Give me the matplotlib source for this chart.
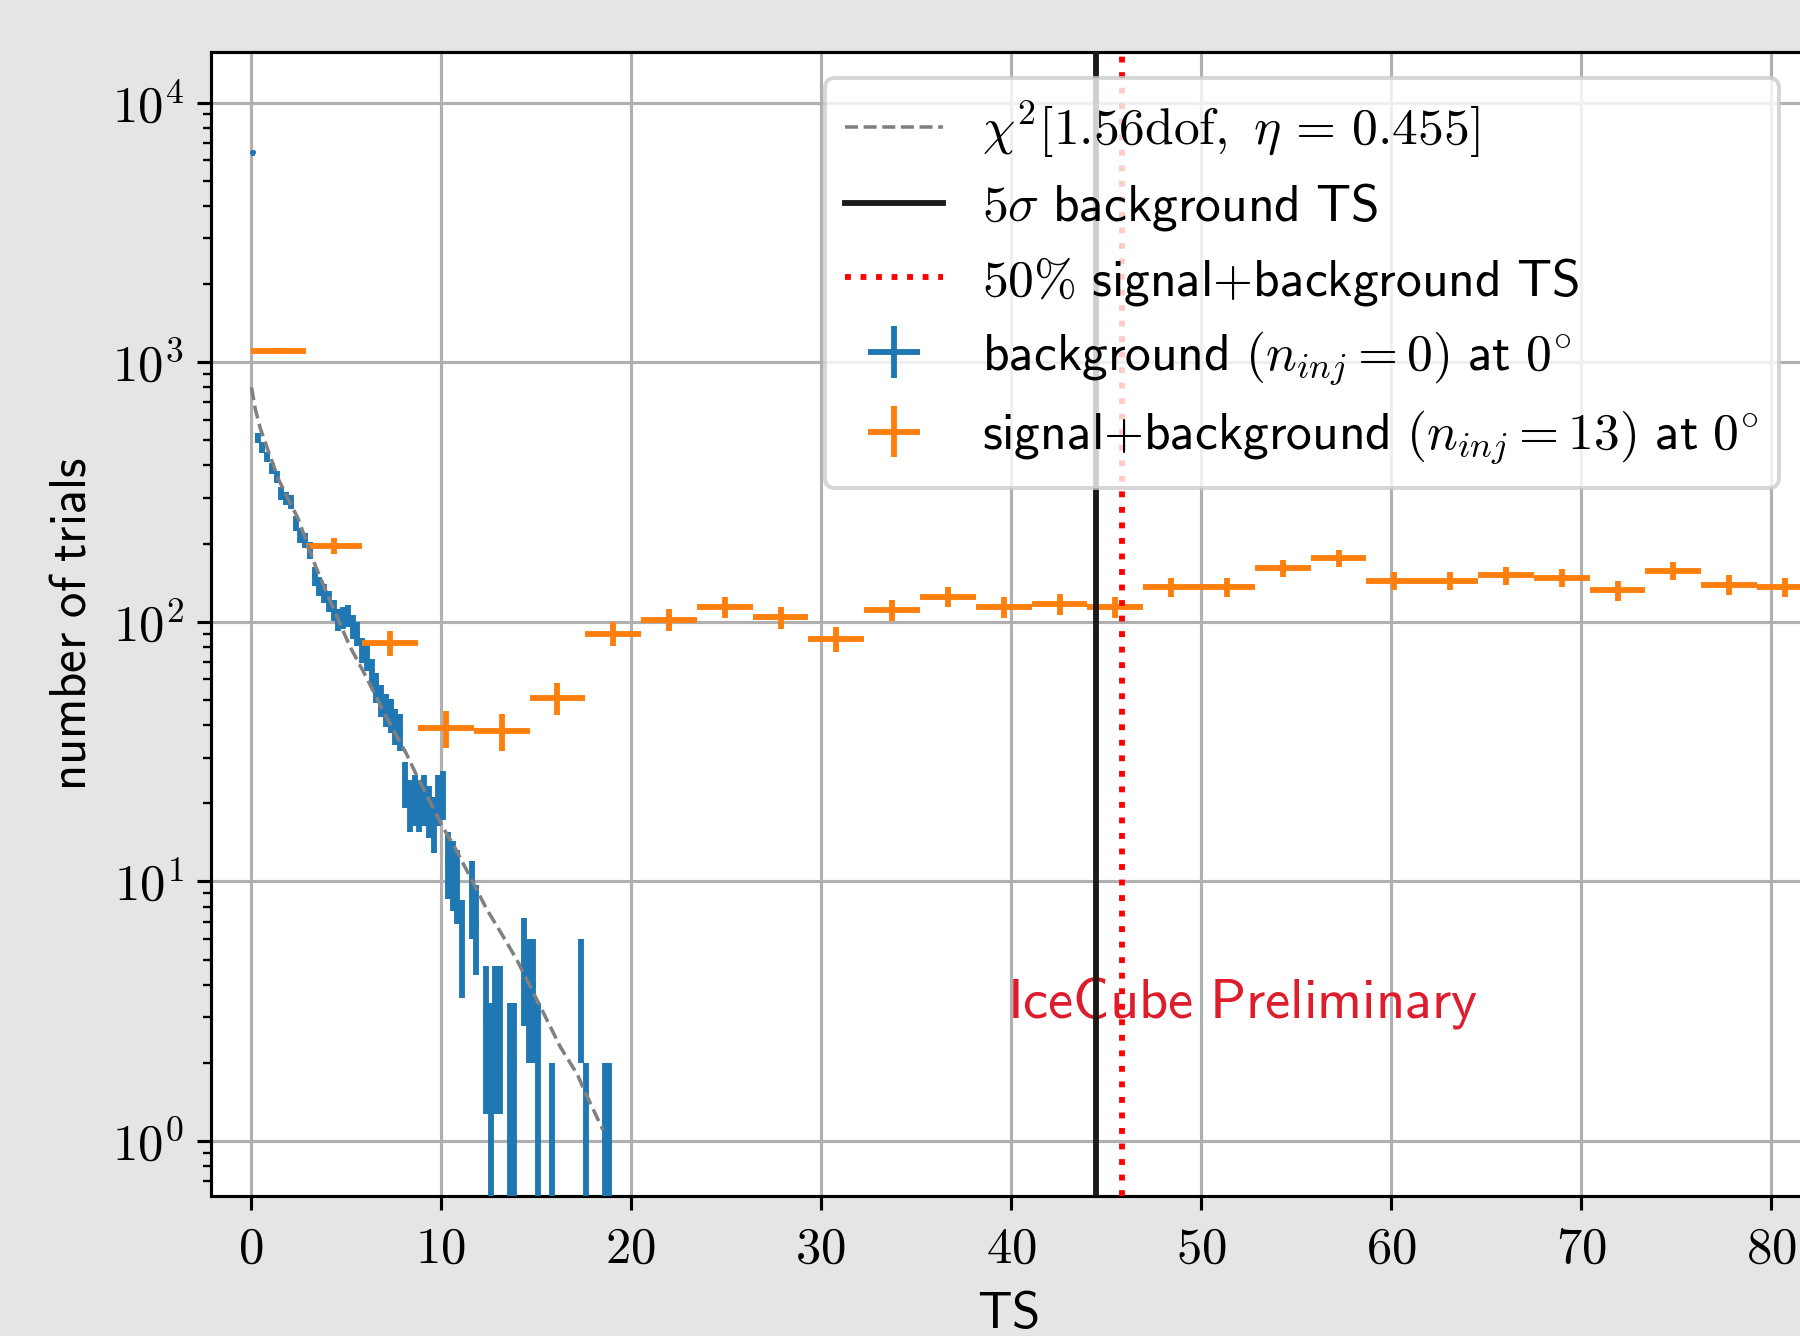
import numpy as np
import matplotlib
matplotlib.use('Agg')
import matplotlib.pyplot as plt
from matplotlib.ticker import FixedLocator, FuncFormatter, LogLocator, NullFormatter

plt.rcParams['mathtext.fontset'] = 'cm'

# background only trials (n_inj = 0), histogram of TS, 0.25 wide bins from 0
bg_bin_width = 0.25
bg_counts = [6410, 510, 470, 432, 390, 362, 313, 300, 290, 239,
             215, 206, 189, 150, 137, 129, 120, 111, 102, 104,
             106, 96, 90, 78, 73, 64, 56, 50, 46, 44,
             40, 38, 24, 20, 21, 20, 21, 19, 17, 21,
             22, 12, 11, 10, 6, 0, 9, 7, 0, 3,
             2, 3, 3, 0, 2, 2, 0, 5, 4, 4,
             2, 0, 0, 1, 0, 0, 0, 0, 0, 4,
             1, 0, 0, 0, 1, 1]

# signal+background trials (n_inj = 13), wider bins from 0
sb_bin_width = 2.935
sb_counts = [1105, 196, 83, 39, 38, 51, 90, 102, 114, 104,
             86, 111, 125, 114, 117, 114, 136, 136, 161, 176,
             144, 144, 151, 148, 132, 157, 139, 136]

# chi2 fit to the background distribution
chi2_ts = [0.05, 0.25, 0.5, 1.0, 1.5, 2.0, 2.5, 3.4, 4.3, 5.24,
           6.0, 7.0, 8.2, 8.75, 10.15, 10.68, 11.38, 12.43, 13.31, 14.0,
           15.24, 16.3, 17.2, 17.5, 18.3, 18.55]
chi2_trials = [800, 660, 560, 440, 350, 295, 250, 165, 115, 80,
               63, 45, 31, 25.5, 16, 13.8, 11.0, 7.8, 6.1, 5.0,
               3.3, 2.3, 1.8, 1.6, 1.2, 1.1]

ts_5sigma = 44.5   # 5 sigma background TS
ts_50pct = 45.85   # median signal+background TS

W, H = 1800, 1336
dpi = 281.25
fig = plt.figure(figsize=(W / dpi, H / dpi), dpi=dpi, facecolor='#e5e5e5')
ax = fig.add_axes([211 / W, 140 / H, (1805 - 211) / W, (1196 - 52) / H])
ax.set_facecolor('white')
ax.set_yscale('log')

# data
bg_n = np.array(bg_counts, dtype=float)
bg_x = (np.arange(len(bg_n)) + 0.5) * bg_bin_width
keep = bg_n > 0
sb_n = np.array(sb_counts, dtype=float)
sb_x = (np.arange(len(sb_n)) + 0.5) * sb_bin_width

chi_line, = ax.plot(chi2_ts, chi2_trials, ls='--', color='gray', lw=0.9, zorder=4)
bg = ax.errorbar(bg_x[keep], bg_n[keep], xerr=bg_bin_width / 2, yerr=np.sqrt(bg_n[keep]),
                 ls='none', color='C0', lw=1.5, zorder=3)
sb = ax.errorbar(sb_x, sb_n, xerr=sb_bin_width / 2, yerr=np.sqrt(sb_n),
                 ls='none', color='C1', lw=1.5, zorder=3)
v5 = ax.axvline(ts_5sigma, color='#1a1a1a', lw=1.5, zorder=5)
v50 = ax.axvline(ts_50pct, color='red', ls=':', lw=1.5, zorder=5)

ax.set_xlim(-2.08, 81.77)
ax.set_ylim(0.614, 15660)

# ticks
ax.xaxis.set_major_locator(FixedLocator(np.arange(0, 90, 10)))
ax.xaxis.set_major_formatter(FuncFormatter(lambda v, p: r'$%d$' % v))
ax.yaxis.set_major_locator(LogLocator(base=10))
ax.yaxis.set_major_formatter(FuncFormatter(lambda v, p: r'$10^{%d}$' % round(np.log10(v))))
ax.yaxis.set_minor_locator(LogLocator(base=10, subs=np.arange(2, 10)))
ax.yaxis.set_minor_formatter(NullFormatter())
ax.tick_params(labelsize=13)

ax.grid(True, which='major', color='#b0b0b0', lw=0.8)
ax.set_axisbelow(True)

ax.set_xlabel(r'$\mathsf{TS}$', fontsize=13)
ax.set_ylabel(r'$\mathsf{number\ of\ trials}$', fontsize=13)

ax.text(39.8, 3.0, r'$\mathsf{IceCube\ Preliminary}$', color='#dd1c2c', fontsize=14.5)

labels = [r'$\chi^2[1.56\mathrm{dof},\ \eta\,=\,0.455]$',
          r'$5\sigma\ \mathsf{background\ TS}$',
          r'$50\%\ \mathsf{signal}{+}\mathsf{background\ TS}$',
          r'$\mathsf{background}\ (n_{inj}=0)\ \mathsf{at}\ 0^{\circ}$',
          r'$\mathsf{signal}{+}\mathsf{background}\ (n_{inj}=13)\ \mathsf{at}\ 0^{\circ}$']
ax.legend([chi_line, v5, v50, bg, sb], labels, loc='upper right', fontsize=13.2,
          framealpha=0.8, edgecolor='0.8', borderpad=0.4, labelspacing=0.42,
          handlelength=1.9, handletextpad=0.75)

fig.savefig('out.png', dpi=dpi, facecolor=fig.get_facecolor())
